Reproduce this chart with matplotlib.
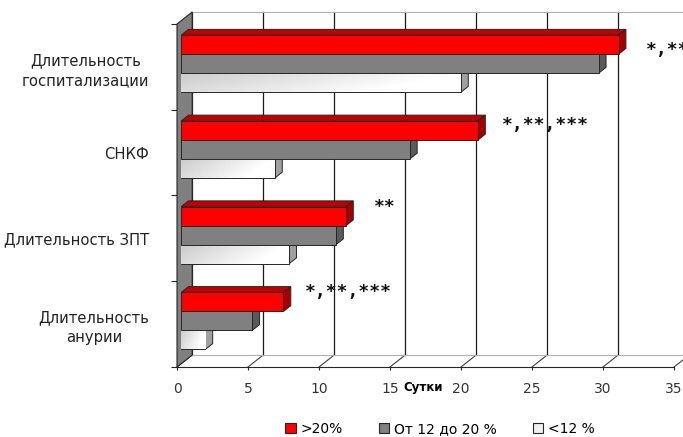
import numpy as np
import matplotlib.pyplot as plt
from matplotlib.patches import Polygon, Patch

plt.rcParams['font.family'] = 'DejaVu Sans'

# Сутки по группам (снизу вверх)
categories = ['Длительность\nанурии', 'Длительность ЗПТ', 'СНКФ', 'Длительность\nгоспитализации']
over_20 = [7.2, 11.6, 20.9, 30.8]
from_12_to_20 = [5.0, 10.9, 16.1, 29.4]
under_12 = [1.7, 7.6, 6.6, 19.7]
series_names = ['>20%', 'От 12 до 20 %', '<12 %']
notes = ['*,**,***', '**', '*,**,***', '*,**,***']
xticks = [0, 5, 10, 15, 20, 25, 30, 35]

# где стоят звездочки (в координатах осей)
note_x = [9.0, 13.9, 22.9, 33.0]
note_y = [0.88, 1.87, 2.82, 3.70]

W, H = 683, 437
fig = plt.figure(figsize=(W / 100, H / 100), dpi=100)
ax = fig.add_axes([177 / W, (H - 367) / H, 497 / W, 343 / H])
ax.set_xlim(0, 35)
ax.set_ylim(0, 4)

# глубина псевдо-3D
DX = 15.2 / 14.2
DY = 12 / 85.75
edge = '#262626'

# пол и задняя стенка
for v in xticks:
    ax.plot([v, v + DX], [0, DY], color='#404040', lw=0.8, clip_on=False, zorder=1)
    ax.plot([v + DX, v + DX], [DY, 4 + DY], color='#1a1a1a', lw=0.9, clip_on=False, zorder=1)
ax.plot([DX, 35 + DX], [DY, DY], color='#b0b0b0', lw=0.8, clip_on=False, zorder=1)
ax.plot([DX, 35 + DX], [4 + DY, 4 + DY], color='#b0b0b0', lw=0.8, clip_on=False, zorder=1)

# левая стенка
ax.add_patch(Polygon([(0, 0), (DX, DY), (DX, 4 + DY), (0, 4)], closed=True,
                     fc='#808080', ec=edge, lw=0.8, clip_on=False, zorder=2))

# столбцы
d0, dd = 0.28, 0.48
ox, oy = d0 * DX, d0 * DY
bx, by = dd * DX, dd * DY
h = 19 / 85.75
margin = 14.5 / 85.75

styles = [
    (over_20, '#ff0000', '#c00000', '#a80000'),
    (from_12_to_20, '#808080', '#5c5c5c', '#5a5a5a'),
    (under_12, '#f4f4f4', '#c8c8c8', '#a0a0a0'),
]

z = 3
for i in range(len(categories)):
    top = i + 1 - margin
    for j in [2, 1, 0]:
        vals, front, top_c, side_c = styles[j]
        v = vals[i]
        y_top = top - j * h + oy
        y_bot = y_top - h
        ax.add_patch(Polygon([(ox, y_top), (ox + v, y_top), (ox + v + bx, y_top + by), (ox + bx, y_top + by)],
                             closed=True, fc=top_c, ec=edge, lw=0.7, clip_on=False, zorder=z))
        ax.add_patch(Polygon([(ox + v, y_bot), (ox + v + bx, y_bot + by), (ox + v + bx, y_top + by), (ox + v, y_top)],
                             closed=True, fc=side_c, ec=edge, lw=0.7, clip_on=False, zorder=z))
        bar = ax.barh(y_bot, v, height=h, left=ox, align='edge', color=front,
                      edgecolor=edge, lw=0.7, clip_on=False, zorder=z + 0.5)[0]
        if j == 2:
            # светлый столбец с градиентом
            cols = np.linspace(0, 1, 64)
            rows = np.linspace(0, 1, 16)[:, None]
            grad = np.clip(0.80 + 0.20 * cols[None, :] + 0.06 * rows, 0, 1)
            im = ax.imshow(grad, cmap='gray', vmin=0, vmax=1, aspect='auto',
                           extent=[ox, ox + v, y_bot, y_top], zorder=z + 0.6)
            im.set_clip_path(bar)
        z += 1

ax.set_xlim(0, 35)
ax.set_ylim(0, 4)

for x, y, t in zip(note_x, note_y, notes):
    ax.text(x, y, t, fontfamily='DejaVu Sans Mono', fontweight='bold', fontsize=13,
            va='center', ha='left', color='#111111', clip_on=False, zorder=20)

# оси
for s in ['top', 'right', 'left']:
    ax.spines[s].set_visible(False)
ax.spines['bottom'].set_color(edge)
ax.spines['bottom'].set_linewidth(0.8)
ax.spines['bottom'].set_zorder(1.5)

ax.set_xticks(xticks)
ax.tick_params(axis='x', length=2, width=0.8, color=edge, pad=9, labelsize=10, labelcolor='#333333')
ax.set_yticks([0.5, 1.5, 2.5, 3.5], categories)
ax.set_yticks([0, 1, 2, 3, 4], minor=True)
ax.tick_params(axis='y', which='major', length=0, pad=20, labelsize=10.6, labelcolor='#222222')
ax.tick_params(axis='y', which='minor', length=4, width=0.8, color=edge)
for lab in ax.get_yticklabels():
    lab.set_multialignment('center')
    lab.set_linespacing(1.4)

ax.set_xlabel('Сутки', fontweight='bold', fontsize=8.5)
ax.xaxis.set_label_coords((423 - 177) / 497, -(381 - 367) / 343)

handles = [Patch(fc=c, ec=edge, lw=0.8) for c in ['#ff0000', '#808080', '#f0f0f0']]
fig.legend(handles, series_names, loc='center', bbox_to_anchor=(440 / W, 1 - 429 / H), ncol=3,
           frameon=False, fontsize=10, handlelength=0.75, handleheight=0.75, handletextpad=0.35,
           columnspacing=2.6, borderpad=0, borderaxespad=0)

fig.savefig('out.png', dpi=100)
